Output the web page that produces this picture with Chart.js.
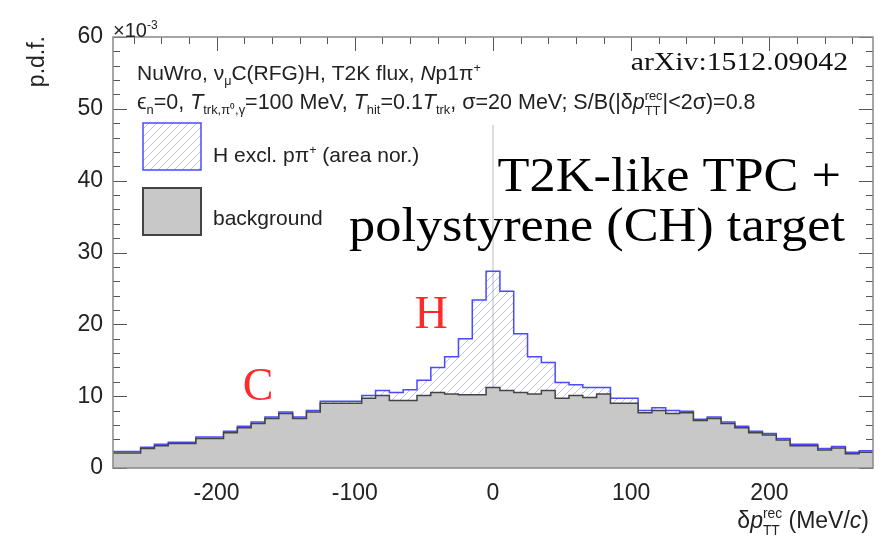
<!DOCTYPE html>
<html>
<head>
<meta charset="utf-8">
<script src="https://cdn.jsdelivr.net/npm/chart.js@4.4.1/dist/chart.umd.min.js"></script>
<style>
  html, body { margin: 0; padding: 0; background: #fff; }
  #wrap { width: 885px; height: 544px; }
</style>
</head>
<body>
<div id="wrap"><canvas id="pdfChart"></canvas></div>
<script>
// --- Data (p.d.f. x 10^-3, 10 MeV/c bins) ---
const binCenters = [-270, -260, -250, -240, -230, -220, -210, -200, -190, -180, -170, -160, -150, -140, -130,
  -120, -110, -100, -90, -80, -70, -60, -50, -40, -30, -20, -10, 0, 10, 20, 30, 40, 50, 60, 70, 80, 90, 100,
  110, 120, 130, 140, 150, 160, 170, 180, 190, 200, 210, 220, 230, 240, 250, 260, 270];

// background (gray, bottom of stack)
const bgValues = [2.1, 2.1, 2.7, 3.1, 3.4, 3.4, 4.1, 4.1, 4.9, 5.6, 6.2, 6.9, 7.6, 6.9, 7.8,
  9.0, 9.0, 9.0, 9.7, 10.1, 9.4, 9.4, 10.1, 10.5, 10.3, 10.2, 10.2, 11.2, 10.8, 10.5, 10.3, 10.8, 9.7, 10.1, 9.8, 10.3, 9.0, 9.0,
  7.7, 8.0, 7.6, 7.7, 6.6, 6.9, 6.2, 5.6, 4.9, 4.6, 3.9, 3.1, 3.1, 2.5, 2.8, 2.0, 2.2];

// H excl. p pi+ (stacked on top of background)
const hValues = [0.2, 0.2, 0.2, 0.2, 0.2, 0.2, 0.2, 0.2, 0.2, 0.2, 0.2, 0.2, 0.2, 0.2, 0.2,
  0.3, 0.3, 0.3, 0.4, 0.7, 1.1, 1.5, 2.1, 3.5, 5.2, 7.8, 13.2, 16.2, 13.8, 8.2, 5.2, 3.9, 2.2, 1.5, 1.4, 0.9, 0.7, 0.7,
  0.3, 0.4, 0.4, 0.2, 0.2, 0.2, 0.2, 0.2, 0.2, 0.2, 0.2, 0.2, 0.2, 0.2, 0.2, 0.2, 0.2];

const binWidth = 10;
const xMin = -275, xMax = 275;
const xTickVals = [-200, -100, 0, 100, 200];
const yTickVals = [0, 10, 20, 30, 40, 50, 60];
const markerX = [0, 0];      // thin vertical guide at zero
const markerY = [0, 47.8];

// histogram as step line: low edges + closing upper edge
function stepPoints(vals) {
  const pts = binCenters.map((c, i) => ({ x: c - binWidth / 2, y: vals[i] }));
  pts.push({ x: binCenters[binCenters.length - 1] + binWidth / 2, y: vals[vals.length - 1] });
  return pts;
}

// --- hatch pattern ---
function makeHatch(color) {
  const c = document.createElement('canvas');
  c.width = 8; c.height = 8;
  const g = c.getContext('2d');
  g.strokeStyle = color;
  g.lineWidth = 0.9;
  g.beginPath();
  g.moveTo(0, 8); g.lineTo(8, 0);
  g.moveTo(-2, 2); g.lineTo(2, -2);
  g.moveTo(6, 10); g.lineTo(10, 6);
  g.stroke();
  return g.createPattern(c, 'repeat');
}
const hatch = makeHatch('rgba(100,115,255,0.5)');

const SANS = '"Liberation Sans", Arial, sans-serif';
const SERIF = '"Liberation Serif", "Times New Roman", serif';

// rich text: parts = [text, mode]; mode: n, i, sub, sup, ss ("sup|sub")
function rich(ctx, x, y, parts, size, align) {
  const sc = 0.6;
  const font = (it, s) => (it ? 'italic ' : '') + s + 'px ' + SANS;
  const items = [];
  let w = 0;
  for (const [t, m] of parts) {
    if (m === 'ss') {
      const [a, b] = t.split('|');
      ctx.font = font(false, size * sc);
      const ww = Math.max(ctx.measureText(a).width, ctx.measureText(b).width);
      items.push({ m, a, b, w: ww }); w += ww;
    } else {
      const small = m === 'sub' || m === 'sup';
      ctx.font = font(m === 'i', small ? size * sc : size);
      const ww = ctx.measureText(t).width;
      items.push({ m, t, w: ww }); w += ww;
    }
  }
  let cx = align === 'right' ? x - w : x;
  ctx.textAlign = 'left';
  ctx.textBaseline = 'alphabetic';
  for (const it of items) {
    if (it.m === 'ss') {
      ctx.font = font(false, size * sc);
      ctx.fillText(it.a, cx, y - size * 0.42);
      ctx.fillText(it.b, cx, y + size * 0.3);
    } else if (it.m === 'sub') {
      ctx.font = font(false, size * sc);
      ctx.fillText(it.t, cx, y + size * 0.25);
    } else if (it.m === 'sup') {
      ctx.font = font(false, size * sc);
      ctx.fillText(it.t, cx, y - size * 0.4);
    } else {
      ctx.font = font(it.m === 'i', size);
      ctx.fillText(it.t, cx, y);
    }
    cx += it.w;
  }
}

function serifText(ctx, text, x, y, size, color, sx, align) {
  ctx.save();
  ctx.font = size + 'px ' + SERIF;
  ctx.fillStyle = color;
  ctx.textBaseline = 'alphabetic';
  ctx.textAlign = 'left';
  const w = ctx.measureText(text).width * sx;
  const x0 = align === 'right' ? x - w : (align === 'center' ? x - w / 2 : x);
  ctx.translate(x0, y);
  ctx.scale(sx, 1);
  ctx.fillText(text, 0, 0);
  ctx.restore();
}

// ROOT style ticks inside frame, frame and annotations
const rootDecor = {
  id: 'rootDecor',
  beforeDatasetsDraw(chart) {
    const { ctx, chartArea: a, scales: { x, y } } = chart;
    ctx.save();
    ctx.strokeStyle = '#555';
    ctx.lineWidth = 1;
    ctx.beginPath();
    for (let v = 0; v <= 60; v += 2) {
      const py = Math.round(y.getPixelForValue(v)) + 0.5;
      const len = v % 10 === 0 ? 14 : 7;
      ctx.moveTo(a.left, py); ctx.lineTo(a.left + len, py);
      ctx.moveTo(a.right, py); ctx.lineTo(a.right - len, py);
    }
    for (let v = -260; v <= 260; v += 20) {
      const px = Math.round(x.getPixelForValue(v)) + 0.5;
      const len = v % 100 === 0 ? 14 : 7;
      ctx.moveTo(px, a.top); ctx.lineTo(px, a.top + len);
      ctx.moveTo(px, a.bottom); ctx.lineTo(px, a.bottom - len);
    }
    ctx.stroke();
    ctx.restore();
  },
  afterDraw(chart) {
    const { ctx, chartArea: a } = chart;
    ctx.save();
    // frame
    ctx.strokeStyle = '#888';
    ctx.lineWidth = 1.5;
    ctx.strokeRect(a.left, a.top, a.right - a.left, a.bottom - a.top);

    ctx.fillStyle = '#222';
    // axis titles
    rich(ctx, a.left, 37, [['\u00d710', 'n'], ['-3', 'sup']], 20);
    ctx.save();
    ctx.translate(44, 36);
    ctx.rotate(-Math.PI / 2);
    ctx.font = '23px ' + SANS;
    ctx.textAlign = 'right';
    ctx.textBaseline = 'alphabetic';
    ctx.fillText('p.d.f.', 0, 0);
    ctx.restore();
    rich(ctx, 869, 528, [['\u03b4', 'n'], ['p', 'i'], ['rec|TT', 'ss'], [' (MeV/', 'n'], ['c', 'i'], [')', 'n']], 23, 'right');

    // info lines
    rich(ctx, 137, 80, [['NuWro, \u03bd', 'n'], ['\u03bc', 'sub'], ['C(RFG)H, T2K flux, ', 'n'], ['N', 'i'],
      ['p1\u03c0', 'n'], ['+', 'sup']], 21);
    rich(ctx, 137, 109, [['\u03f5', 'n'], ['n', 'sub'], ['=0, ', 'n'], ['T', 'i'], ['trk,\u03c0\u2070,\u03b3', 'sub'],
      ['=100 MeV, ', 'n'], ['T', 'i'], ['hit', 'sub'], ['=0.1', 'n'], ['T', 'i'], ['trk', 'sub'],
      [', \u03c3=20 MeV; S/B(|\u03b4', 'n'], ['p', 'i'], ['rec|TT', 'ss'], ['|<2\u03c3)=0.8', 'n']], 21.5);

    serifText(ctx, 'arXiv:1512.09042', 848, 70, 25, '#111', 1.19, 'right');
    serifText(ctx, 'T2K-like TPC +', 841, 191, 48, '#000', 1.09, 'right');
    serifText(ctx, 'polystyrene (CH) target', 845, 241, 48, '#000', 1.09, 'right');
    serifText(ctx, 'H', 431, 328, 46, '#ff2a2a', 1.0, 'center');
    serifText(ctx, 'C', 258, 400, 46, '#ff2a2a', 1.0, 'center');

    // legend
    ctx.fillStyle = hatch;
    ctx.fillRect(143, 123, 58, 47);
    ctx.strokeStyle = '#4a4aff';
    ctx.lineWidth = 1.5;
    ctx.strokeRect(143, 123, 58, 47);
    ctx.fillStyle = '#c8c8c8';
    ctx.fillRect(143, 188, 58, 47);
    ctx.strokeStyle = '#444';
    ctx.lineWidth = 2;
    ctx.strokeRect(143, 188, 58, 47);
    ctx.fillStyle = '#222';
    rich(ctx, 213, 162, [['H excl. p\u03c0', 'n'], ['+', 'sup'], [' (area nor.)', 'n']], 21);
    rich(ctx, 213, 225, [['background', 'n']], 21);
    ctx.restore();
  }
};

const ctx = document.getElementById('pdfChart').getContext('2d');
const chart = new Chart(ctx, {
  type: 'line',
  data: {
    datasets: [
      { label: 'background', data: stepPoints(bgValues), stepped: true, stack: 'h',
        borderColor: '#444', borderWidth: 1.5, backgroundColor: '#c8c8c8', fill: 'origin', pointRadius: 0 },
      { label: 'H excl. p\u03c0+ (area nor.)', data: stepPoints(hValues), stepped: true, stack: 'h',
        borderColor: '#4a4aff', borderWidth: 1.5, backgroundColor: hatch, fill: '-1', pointRadius: 0 },
      { label: 'zero', data: markerX.map((v, i) => ({ x: v, y: markerY[i] })), stack: 'v',
        borderColor: '#dddddd', borderWidth: 2, fill: false, pointRadius: 0 }
    ]
  },
  options: {
    responsive: true,
    maintainAspectRatio: false,
    animation: false,
    layout: { padding: { top: 37, right: 12, left: 0, bottom: 0 } },
    plugins: { legend: { display: false }, tooltip: { enabled: false }, title: { display: false } },
    scales: {
      x: {
        type: 'linear', min: xMin, max: xMax,
        grid: { display: false, drawTicks: false }, border: { display: false },
        afterBuildTicks: s => { s.ticks = xTickVals.map(v => ({ value: v })); },
        afterFit: s => { s.height = 76; },
        ticks: { padding: 12, color: '#222', font: { family: SANS, size: 23 }, maxRotation: 0 }
      },
      y: {
        type: 'linear', min: 0, max: 60, stacked: true,
        grid: { display: false, drawTicks: false }, border: { display: false },
        afterBuildTicks: s => { s.ticks = yTickVals.map(v => ({ value: v })); },
        afterFit: s => { s.width = 113; },
        ticks: { padding: 10, color: '#222', font: { family: SANS, size: 23 } }
      }
    }
  },
  plugins: [rootDecor]
});
</script>
</body>
</html>
